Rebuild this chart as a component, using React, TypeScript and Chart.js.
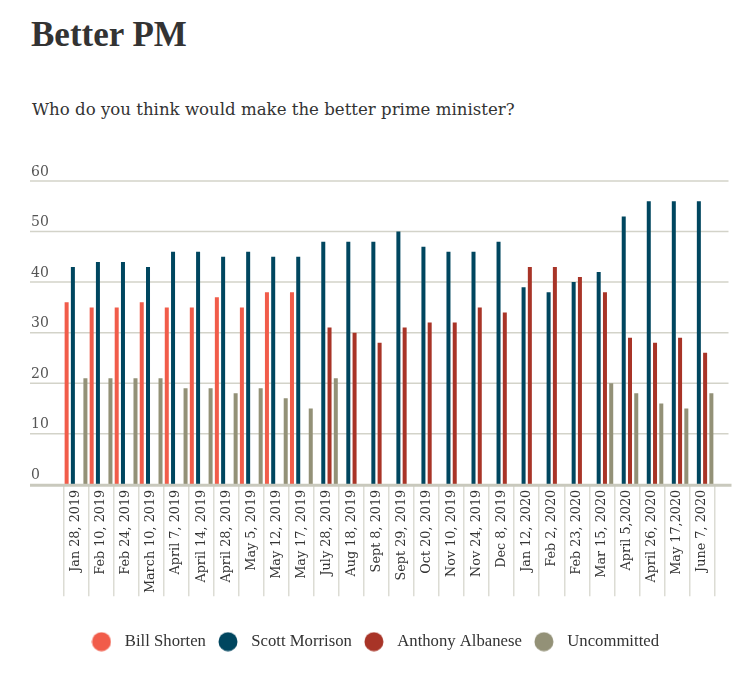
import React, { useEffect, useRef } from "react";
import { Chart, registerables } from "chart.js";

Chart.register(...registerables);

const categories = [
  "Jan 28, 2019", "Feb 10, 2019", "Feb 24, 2019", "March 10, 2019", "April 7, 2019",
  "April 14, 2019", "April 28, 2019", "May 5, 2019", "May 12, 2019", "May 17, 2019",
  "July 28, 2019", "Aug 18, 2019", "Sept 8, 2019", "Sept 29, 2019", "Oct 20, 2019",
  "Nov 10, 2019", "Nov 24, 2019", "Dec 8, 2019", "Jan 12, 2020", "Feb 2, 2020",
  "Feb 23, 2020", "Mar 15, 2020", "April 5,2020", "April 26, 2020", "May 17,2020",
  "June 7, 2020",
];

const billShorten = [36, 35, 35, 36, 35, 35, 37, 35, 38, 38,
  null, null, null, null, null, null, null, null, null, null, null, null, null, null, null, null];
const scottMorrison = [43, 44, 44, 43, 46, 46, 45, 46, 45, 45,
  48, 48, 48, 50, 47, 46, 46, 48, 39, 38, 40, 42, 53, 56, 56, 56];
const anthonyAlbanese = [null, null, null, null, null, null, null, null, null, null,
  31, 30, 28, 31, 32, 32, 35, 34, 43, 43, 41, 38, 29, 28, 29, 26];
const uncommitted = [21, 21, 21, 21, 19, 19, 18, 19, 17, 15,
  21, null, null, null, null, null, null, null, null, null, null, 20, 18, 16, 15, 18];

const seriesNames = ["Bill Shorten", "Scott Morrison", "Anthony Albanese", "Uncommitted"];
const seriesColors = ["#f15c4a", "#00465f", "#a83427", "#939177"];

const yMin = 0;
const yMax = 60;
const yStep = 10;

const SERIF = '"DejaVu Serif", serif';
const LEGEND_FONT = '"Liberation Serif", serif';
const TEXT = "#333333";

function dot(color: string): HTMLCanvasElement {
  const c = document.createElement("canvas");
  c.width = 20;
  c.height = 20;
  const g = c.getContext("2d")!;
  g.fillStyle = color;
  g.beginPath();
  g.arc(10, 10, 9.5, 0, Math.PI * 2);
  g.fill();
  return c;
}

export default function App() {
  const ref = useRef<HTMLCanvasElement>(null);

  useEffect(() => {
    const canvas = ref.current;
    if (!canvas) return;

    const gridPlugin = {
      id: "extendedGrid",
      beforeDatasetsDraw(chart: any) {
        const { ctx, chartArea } = chart;
        const y = chart.scales.y;
        const left = y.left - 1;
        const right = chartArea.right + 14;
        ctx.save();
        ctx.strokeStyle = "#d3d3c9";
        ctx.lineWidth = 1.5;
        y.ticks.forEach((t: any) => {
          if (t.value === 0) return;
          const py = y.getPixelForValue(t.value);
          ctx.beginPath();
          ctx.moveTo(left, py);
          ctx.lineTo(right, py);
          ctx.stroke();
        });
        ctx.restore();
      },
      afterDatasetsDraw(chart: any) {
        const { ctx, chartArea } = chart;
        const y = chart.scales.y;
        const py = y.getPixelForValue(0);
        ctx.save();
        ctx.strokeStyle = "#c9c9bd";
        ctx.lineWidth = 3;
        ctx.beginPath();
        ctx.moveTo(y.left - 1, py + 1);
        ctx.lineTo(chartArea.right + 17, py + 1);
        ctx.stroke();
        ctx.restore();
      },
    };

    const series = [billShorten, scottMorrison, anthonyAlbanese, uncommitted];

    const chart = new Chart(canvas, {
      type: "bar",
      data: {
        labels: categories,
        datasets: series.map((d, i) => ({
          label: seriesNames[i],
          data: d,
          backgroundColor: seriesColors[i],
          borderWidth: 0,
          barPercentage: 0.64,
          categoryPercentage: 1.0,
          pointStyle: dot(seriesColors[i]),
        })),
      },
      options: {
        responsive: false,
        animation: false,
        devicePixelRatio: 1,
        layout: { padding: { left: 31, right: 21.5, top: 181, bottom: 17 } },
        plugins: {
          tooltip: { enabled: false },
          legend: {
            position: "bottom",
            labels: {
              usePointStyle: true,
              pointStyleWidth: 30,
              boxHeight: 16,
              padding: 7,
              color: TEXT,
              font: { family: LEGEND_FONT, size: 16.7 },
            },
          },
        },
        scales: {
          x: {
            grid: {
              display: true,
              drawOnChartArea: false,
              drawTicks: true,
              tickLength: 112,
              color: "#dcdcd4",
              lineWidth: 1.5,
              offset: true,
            },
            border: { display: false },
            ticks: {
              autoSkip: false,
              maxRotation: 90,
              minRotation: 90,
              padding: -106.5,
              color: TEXT,
              font: { family: SERIF, size: 12.8 },
            },
            afterFit: (s: any) => {
              s.height = 142;
            },
          },
          y: {
            min: yMin,
            max: yMax,
            grid: { display: false },
            border: { display: false },
            ticks: {
              stepSize: yStep,
              crossAlign: "far",
              labelOffset: -9,
              color: "#555555",
              font: { family: SERIF, size: 14 },
            },
            afterFit: (s: any) => {
              s.width = 32.5;
            },
          },
        },
      },
      plugins: [gridPlugin],
    } as any);

    return () => chart.destroy();
  }, []);

  return (
    <div>
      <div
        style={{
          position: "absolute",
          left: 31,
          top: 17,
          fontFamily: '"Liberation Serif", serif',
          fontWeight: 700,
          fontSize: 35,
          lineHeight: "35px",
          color: TEXT,
          whiteSpace: "nowrap",
        }}
      >
        Better PM
      </div>
      <div
        style={{
          position: "absolute",
          left: 32,
          top: 101,
          fontFamily: SERIF,
          fontSize: 16.6,
          lineHeight: "17px",
          color: TEXT,
          whiteSpace: "nowrap",
        }}
      >
        Who do you think would make the better prime minister?
      </div>
      <canvas
        ref={ref}
        width={736}
        height={677}
        style={{ position: "absolute", left: 0, top: 0, width: 736, height: 677 }}
      />
    </div>
  );
}
